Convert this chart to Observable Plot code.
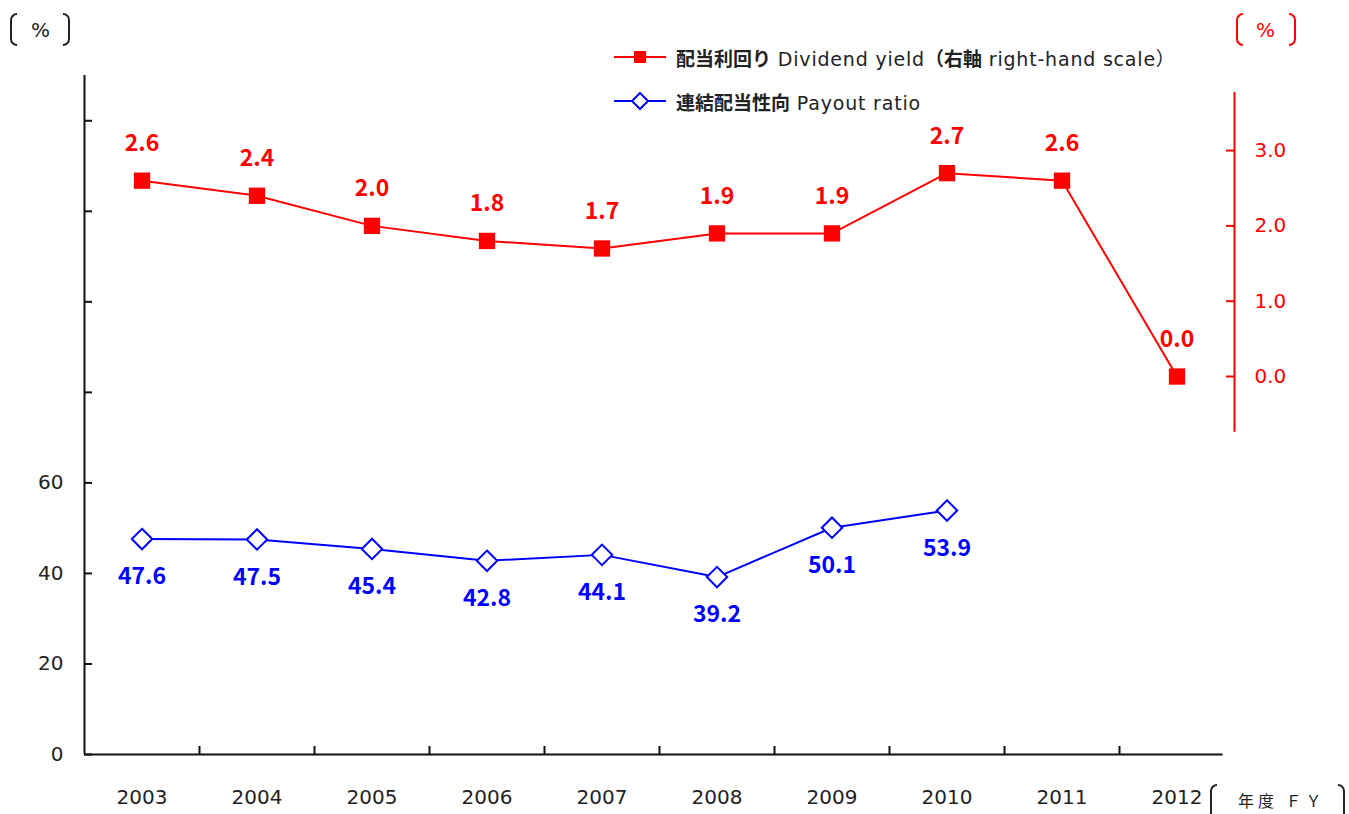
<!DOCTYPE html>
<html><head><meta charset="utf-8">
<script src="https://cdn.jsdelivr.net/npm/d3@7"></script>
<script src="https://cdn.jsdelivr.net/npm/@observablehq/plot@0.6"></script>
<style>
body{margin:0;background:#fff;}
#wrap{position:relative;width:1349px;height:814px;overflow:hidden;font-family:"DejaVu Sans","Noto Sans CJK JP",sans-serif;}
#chart{position:absolute;left:0;top:0;}
.br{position:absolute;width:5px;height:29px;border:2px solid #222;}
.br.l{border-right:none;border-radius:7px 0 0 7px;}
.br.r{border-left:none;border-radius:0 7px 7px 0;}
.red .br{border-color:#ff0000;}
.unit{position:absolute;font-size:20px;line-height:20px;color:#222;}
.red .unit{color:#ff0000;}
.legend{position:absolute;left:612px;height:24px;font-size:19px;letter-spacing:0.8px;color:#222;white-space:nowrap;display:flex;align-items:center;}
.legend svg{margin-right:8px;}
.jp{font-family:"Noto Sans CJK JP";font-weight:700;letter-spacing:0;}
.fy{position:absolute;left:1238px;top:790px;font-family:"Noto Sans CJK JP";font-size:16px;letter-spacing:4px;color:#222;line-height:20px;}
</style></head>
<body>
<div id="wrap">
  <div id="chart"></div>
  <!-- left unit -->
  <div class="br l" style="left:10px;top:13px"></div>
  <div class="unit" style="left:31px;top:20px">%</div>
  <div class="br r" style="left:63px;top:13px"></div>
  <!-- right unit -->
  <div class="red">
    <div class="br l" style="left:1236px;top:13px"></div>
    <div class="unit" style="left:1256px;top:20px">%</div>
    <div class="br r" style="left:1289px;top:13px"></div>
  </div>
  <!-- x unit -->
  <div class="br l" style="left:1210px;top:784px;height:34px"></div>
  <div class="fy">年度 ＦＹ</div>
  <div class="br r" style="left:1338px;top:784px;height:34px"></div>
  <!-- legend -->
  <div class="legend" style="top:45px">
    <svg width="56" height="20"><line x1="2" x2="54" y1="10" y2="10" stroke="#ff0000" stroke-width="2"/><rect x="22" y="4" width="12" height="12" fill="#ff0000"/></svg>
    <span><span class="jp">配当利回り</span> Dividend yield<span class="jp">（右軸</span> right-hand scale）</span>
  </div>
  <div class="legend" style="top:89px">
    <svg width="56" height="20"><line x1="2" x2="54" y1="10" y2="10" stroke="#0000ff" stroke-width="2"/><polygon points="28,2 36,10 28,18 20,10" fill="white" stroke="#0000ff" stroke-width="2"/></svg>
    <span><span class="jp">連結配当性向</span> Payout ratio</span>
  </div>
</div>
<script>
// ---- data ----
const years = [2003, 2004, 2005, 2006, 2007, 2008, 2009, 2010, 2011, 2012];
const dividendYield = [2.6, 2.4, 2.0, 1.8, 1.7, 1.9, 1.9, 2.7, 2.6, 0.0];
const payoutRatio = [47.6, 47.5, 45.4, 42.8, 44.1, 39.2, 50.1, 53.9, null, null];
const leftTicks = [0, 20, 40, 60, 80, 100, 120, 140];
const leftTickLabels = [0, 20, 40, 60];
const rightTicks = [0, 1, 2, 3];
const xBoundaryTicks = [2003.5, 2004.5, 2005.5, 2006.5, 2007.5, 2008.5, 2009.5, 2010.5, 2011.5];

// ---- dual axis mapping (right-hand % onto left scale) ----
const RIGHT_ZERO = 83.5, RIGHT_PER_UNIT = 16.64;
const toLeft = r => RIGHT_ZERO + r * RIGHT_PER_UNIT;
const RED = "#ff0000", BLUE = "#0000ff", INK = "#111";

const yieldData = years.map((year, i) => ({year, value: dividendYield[i]}));
const payoutData = years.map((year, i) => ({year, value: payoutRatio[i]})).filter(d => d.value != null);

const chart = Plot.plot({
  width: 1349, height: 814,
  marginLeft: 84, marginRight: 115, marginTop: 75, marginBottom: 60,
  x: {domain: [2002.5, 2012.5], axis: null},
  y: {domain: [0, 150], axis: null},
  style: {fontFamily: '"DejaVu Sans", "Noto Sans CJK JP", sans-serif', fontSize: "20px", color: "#222", background: "transparent"},
  marks: [
    Plot.ruleX([2002.5], {y1: 0, y2: 150, stroke: INK, strokeWidth: 2}),
    Plot.ruleY([0], {x1: 2002.5, x2: 2012.4, stroke: INK, strokeWidth: 2}),
    Plot.axisY(leftTicks, {anchor: "left", label: null, tickSize: -8, tickFormat: () => "", stroke: INK, strokeWidth: 2}),
    Plot.axisY(leftTickLabels, {anchor: "left", label: null, tickSize: 0, tickPadding: 21, fontSize: 20, fill: "#222"}),
    Plot.axisX(xBoundaryTicks, {anchor: "bottom", label: null, tickSize: -8, tickFormat: () => "", stroke: INK, strokeWidth: 2}),
    Plot.axisX(years, {anchor: "bottom", label: null, tickSize: 0, tickPadding: 35, tickFormat: d => String(d), fontSize: 20, fill: "#222"}),
    Plot.ruleX([2012.5], {y1: toLeft(-0.74), y2: toLeft(3.77), stroke: RED, strokeWidth: 2}),
    Plot.axisY(rightTicks.map(toLeft), {anchor: "right", label: null, tickSize: -9, tickFormat: () => "", stroke: RED, strokeWidth: 2}),
    Plot.text(rightTicks, {x: 2012.5, y: toLeft, text: d => d.toFixed(1), dx: 20, textAnchor: "start", fill: RED, fontSize: 20}),
    Plot.line(payoutData, {x: "year", y: "value", stroke: BLUE, strokeWidth: 2}),
    Plot.dot(payoutData, {x: "year", y: "value", symbol: "diamond2", r: 9.2, fill: "white", stroke: BLUE, strokeWidth: 2}),
    Plot.text(payoutData, {x: "year", y: "value", text: d => d.value.toFixed(1), dy: 38, fill: BLUE, fontWeight: "bold", fontSize: 23, fontFamily: "Noto Sans CJK JP"}),
    Plot.line(yieldData, {x: "year", y: d => toLeft(d.value), stroke: RED, strokeWidth: 2}),
    Plot.dot(yieldData, {x: "year", y: d => toLeft(d.value), symbol: "square", r: 9.2, fill: RED}),
    Plot.text(yieldData, {x: "year", y: d => toLeft(d.value), text: d => d.value.toFixed(1), dy: -37, fill: RED, fontWeight: "bold", fontSize: 23, fontFamily: "Noto Sans CJK JP"})
  ]
});
document.getElementById("chart").appendChild(chart);
</script>
</body></html>
